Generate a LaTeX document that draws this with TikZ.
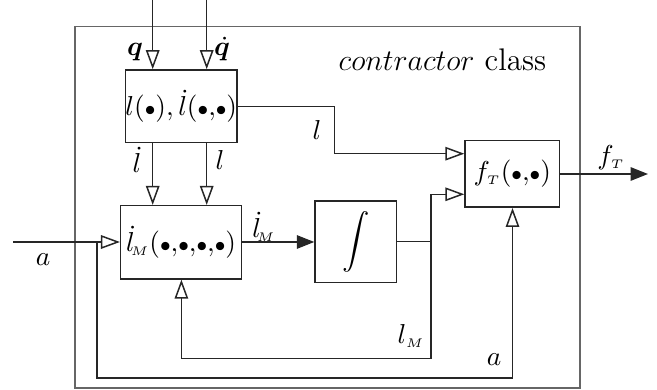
\documentclass[tikz,border=0pt]{standalone}
\usepackage{amsmath,bm}
\usetikzlibrary{arrows.meta}
\newcommand\bt{{\scriptstyle\bullet}}
\newcommand\cm{{,}}
\begin{document}
\begin{tikzpicture}[x=0.4pt,y=-0.4pt,
  blk/.style={draw=black!85,line width=0.6pt,rectangle,inner sep=0pt,font=\fontsize{11}{13}\selectfont},
  wire/.style={draw=black!85,line width=0.6pt},
  oarr/.style={wire,-{Triangle[open,length=7.6pt,width=5.4pt,fill=white]}},
  farr/.style={wire,-{Triangle[length=7pt,width=5.4pt]}},
  lbl/.style={inner sep=0pt,font=\fontsize{11}{13}\selectfont}]
\useasboundingbox (0,0) rectangle (657,390);
\draw[draw=black!60,line width=0.6pt] (75,26.5) rectangle (580,388);
\node[lbl,font=\fontsize{12.5}{14}\selectfont] (cls) at (442.5,60) {$contractor$ class};
% blocks
\node[blk,minimum width=43.7pt,minimum height=29.1pt] (b1) at (181.3,106.3) {$l(\bt),\dot{l}(\bt\cm\bt)$};
\node[blk,minimum width=48.3pt,minimum height=29.3pt] (b2) at (181.1,242.3) {$\dot{l}_{\!\scriptscriptstyle M}(\bt\cm\bt\cm\bt\cm\bt)$};
\node[blk,minimum width=32.6pt,minimum height=32.5pt] (b3) at (355.8,241.7) {$\displaystyle\int$};
\node[blk,minimum width=37.7pt,minimum height=26.6pt] (b4) at (512.2,174) {$f_{\scriptscriptstyle T}(\bt\cm\bt)$};
% coordinates
\coordinate (qin) at (152.7,0);
\coordinate (qdin) at (206.7,0);
\coordinate (ain) at (13,242);
\coordinate (aj) at (96.8,242);
\coordinate (fout) at (648,174);
\coordinate (jn) at (431,241.7);
% inputs
\draw[oarr] (qin) -- (qin |- b1.north);
\draw[oarr] (qdin) -- (qdin |- b1.north);
\node[lbl] (ql) at (135,52) {$\bm{q}$};
\node[lbl] (qdl) at (222,49) {$\dot{\bm{q}}$};
% b1 -> b2
\draw[oarr] (qin |- b1.south) -- (qin |- b2.north);
\draw[oarr] (qdin |- b1.south) -- (qdin |- b2.north);
\node[lbl] (ldl) at (137,160) {$\dot{l}$};
\node[lbl] (ll) at (220,160) {$l$};
% b1 -> b4
\draw[oarr] (b1.east |- 0,106.7) -| (334.7,153.7) -- (b4.west |- 0,153.7);
\node[lbl] (l2) at (317,130) {$l$};
% a input
\draw[oarr] (ain) -- (b2.west |- ain);
\node[lbl] (al) at (43,260) {$a$};
% b2 -> b3
\draw[farr] (b2.east |- 0,242) -- (b3.west |- 0,242);
\node[lbl] (ldm) at (264,227) {$\dot{l}_{\!\scriptscriptstyle M}$};
% b3 -> b4 and feedback
\draw[wire] (b3.east) -- (jn);
\draw[oarr] (jn) |- (b4.west |- 0,194.3);
\draw[oarr] (jn) |- (181.4,358.6) -- (181.4,0 |- b2.south);
\node[lbl] (lml) at (411,336) {$l_{\scriptscriptstyle M}$};
% a loop
\draw[oarr] (aj) |- (512.5,378) -- (512.5,0 |- b4.south);
\node[lbl] (al2) at (494,360) {$a$};
% output
\draw[farr] (b4.east) -- (fout);
\node[lbl] (ftl) at (611,158) {$f_{\scriptscriptstyle T}$};
\end{tikzpicture}
\end{document}
